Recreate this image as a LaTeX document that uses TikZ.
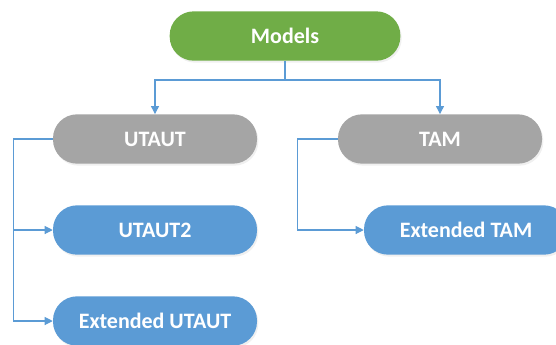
\documentclass[tikz,border=0pt]{standalone}
\usepackage{fontspec}
\setmainfont{Carlito}
\usetikzlibrary{arrows.meta,shadows,positioning}
\definecolor{modgreen}{HTML}{70AD47}
\definecolor{modgray}{HTML}{A5A5A5}
\definecolor{modblue}{HTML}{5B9BD5}
\tikzset{box/.style={rectangle, rounded corners=18pt, minimum width=153pt, minimum height=37pt, inner sep=0pt, text=white, font=\fontsize{16.5}{19}\selectfont\bfseries, drop shadow={opacity=0.12, shadow xshift=1pt, shadow yshift=-1.5pt}},
  link/.style={draw=modblue, line width=0.8pt, -{Triangle[length=6pt,width=6pt]}}}

\begin{document}
\begin{tikzpicture}[x=0.75pt, y=-0.75pt]
    \useasboundingbox (0,0) rectangle (556,344);
    \clip (0,0) rectangle (556,344);
    \node[box,fill=modgreen,minimum width=173pt] (M) at (285,36) {Models};
    \node[box,fill=modgray] (U) at (155,139) {UTAUT};
    \node[box,fill=modgray] (T) at (440,139) {TAM};
    \node[box,fill=modblue] (U2) at (155,230) {UTAUT2};
    \node[box,fill=modblue] (EU) at (155,321) {Extended UTAUT};
    \node[box,fill=modblue] (ET) at (466,230) {Extended TAM};
    \coordinate (J) at (285,80);
    \draw[link] (M.south) -- (J) -| (U.north);
    \draw[link] (J) -| (T.north);
    \draw[link] (U.west) -- ++(-39,0) |- (U2.west);
    \draw[link] (U.west) -- ++(-39,0) |- (EU.west);
    \draw[link] (T.west) -- ++(-40,0) |- (ET.west);
\end{tikzpicture}
\end{document}
